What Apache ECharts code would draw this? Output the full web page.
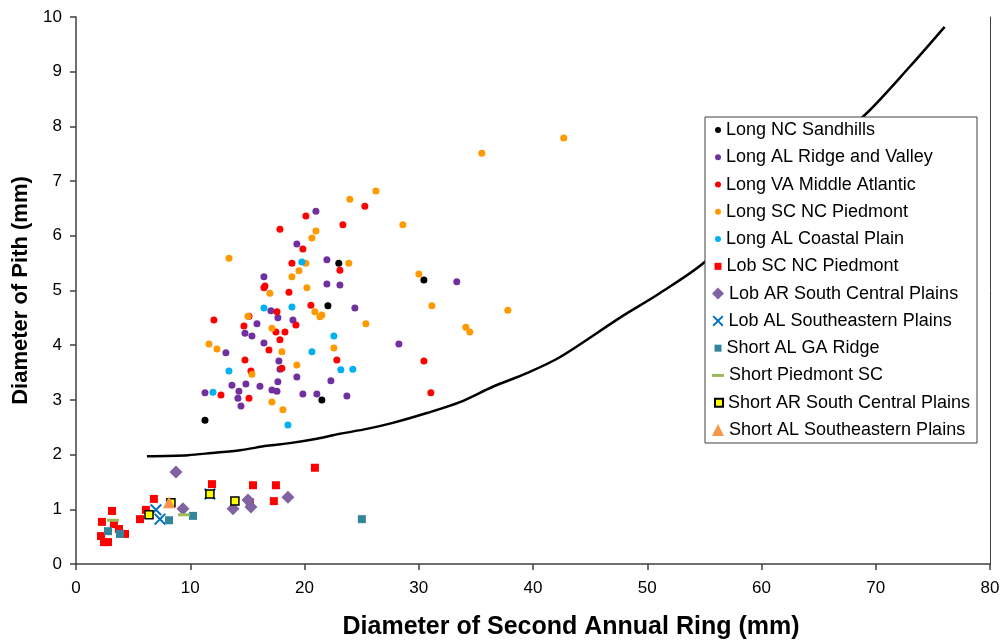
<!DOCTYPE html>
<html><head><meta charset="utf-8">
<script src="https://cdn.jsdelivr.net/npm/echarts@6/dist/echarts.min.js"></script>
<style>html,body{margin:0;padding:0;background:#fff}#c{width:1005px;height:643px}</style>
</head><body><div id="c"></div><script>
// ---- data ----
const longNCSandhills = [[23.0,5.50],[22.05,4.72],[30.45,5.19],[11.29,2.63],[21.52,3.00]];
const longALRidge = [[21.0,6.45],[19.33,5.85],[21.96,5.56],[16.45,5.25],[21.96,5.12],[23.1,5.10],[24.41,4.68],[17.06,4.63],[17.67,4.50],[18.99,4.46],[15.84,4.39],[14.79,4.22],[15.40,4.17],[16.45,4.04],[13.12,3.86],[17.76,3.71],[17.85,3.56],[19.33,3.42],[22.31,3.35],[17.67,3.33],[13.65,3.27],[14.87,3.29],[16.10,3.25],[17.15,3.18],[17.59,3.16],[11.29,3.13],[14.26,3.16],[14.17,3.03],[19.86,3.11],[21.08,3.11],[23.71,3.07],[14.44,2.89],[33.33,5.16],[28.26,4.02]];
const longVAMiddle = [[25.28,6.54],[20.12,6.36],[23.36,6.20],[17.85,6.12],[19.86,5.76],[18.90,5.50],[23.1,5.37],[16.54,5.08],[16.45,5.05],[18.64,4.97],[20.56,4.73],[17.59,4.61],[15.14,4.53],[12.07,4.46],[19.25,4.37],[14.70,4.35],[17.50,4.24],[18.29,4.24],[17.85,4.10],[16.89,3.91],[14.79,3.73],[22.83,3.73],[18.02,3.58],[15.31,3.53],[12.69,3.09],[15.14,3.03],[30.45,3.71],[31.06,3.13]];
const longSCNC = [[42.69,7.79],[35.52,7.51],[26.25,6.82],[23.97,6.67],[28.61,6.20],[21.0,6.09],[20.65,5.96],[13.39,5.59],[20.12,5.50],[23.88,5.50],[19.51,5.36],[18.90,5.25],[30.01,5.30],[20.21,5.05],[16.97,4.95],[31.15,4.72],[37.80,4.64],[20.91,4.61],[21.35,4.52],[21.52,4.55],[15.05,4.53],[25.37,4.39],[17.15,4.31],[34.12,4.33],[34.47,4.24],[22.57,3.95],[11.64,4.02],[12.34,3.93],[18.02,3.88],[19.33,3.64],[15.40,3.47],[17.15,2.96],[18.11,2.82]];
const longALCoastal = [[19.77,5.52],[16.45,4.68],[18.90,4.70],[22.57,4.17],[20.65,3.88],[13.39,3.53],[23.18,3.55],[24.23,3.56],[11.99,3.14],[18.55,2.54]];
const lobSCNC = [[3.15,0.97],[2.27,0.77],[3.32,0.73],[3.76,0.64],[4.29,0.55],[2.19,0.51],[2.45,0.40],[2.80,0.40],[6.82,1.19],[6.12,0.99],[5.60,0.82],[11.90,1.46],[15.49,1.44],[17.50,1.44],[17.32,1.15],[15.22,1.13],[20.91,1.76]];
const lobARSouth = [[8.75,1.68],[9.36,1.01],[15.05,1.17],[15.31,1.04],[13.74,1.01],[18.55,1.22]];
const lobALSoutheast = [[7.0,0.99],[7.35,0.82],[11.72,1.28]];
const shortALGA = [[2.80,0.60],[3.85,0.55],[8.14,0.80],[10.24,0.88],[25.02,0.82]];
const shortPiedmontSC = [[3.24,0.80],[9.45,0.90]];
const shortARSouth = [[6.39,0.90],[8.31,1.12],[11.72,1.28],[13.91,1.15]];
const shortALSoutheast = [[8.14,1.13]];
const curveX = [6.21,9.80,11.90,14.35,16.71,18.72,21.08,23.10,25.46,27.73,30.71,33.60,36.48,39.46,42.34,47.59,51.09,55.03,69.20,72.97,76.03];
const curveY = [1.97,1.99,2.03,2.08,2.16,2.21,2.29,2.38,2.47,2.58,2.76,2.96,3.24,3.49,3.78,4.50,4.95,5.52,8.24,9.09,9.82];
const seriesNames = ['Long NC Sandhills','Long AL Ridge and Valley','Long VA Middle Atlantic','Long SC NC Piedmont','Long AL Coastal Plain','Lob SC NC Piedmont','Lob AR South Central Plains','Lob AL Southeastern Plains','Short AL GA Ridge','Short Piedmont SC','Short AR South Central Plains','Short AL Southeastern Plains'];
const xAxisName = 'Diameter of Second Annual Ring (mm)';
const yAxisName = 'Diameter of Pith (mm)';

// ---- styles ----
const X_PATH = 'path://M0,1.2L1.2,0L5,3.8L8.8,0L10,1.2L6.2,5L10,8.8L8.8,10L5,6.2L1.2,10L0,8.8L3.8,5Z';
const styles = [
  {data: longNCSandhills, symbol:'circle', size:7, color:'#000000', lw:6, lh:6},
  {data: longALRidge, symbol:'circle', size:7, color:'#7030A0', lw:6, lh:6},
  {data: longVAMiddle, symbol:'circle', size:7, color:'#FF0000', lw:6, lh:6},
  {data: longSCNC, symbol:'circle', size:7, color:'#FF9900', lw:6, lh:6},
  {data: longALCoastal, symbol:'circle', size:7, color:'#00B0F0', lw:6, lh:6},
  {data: lobSCNC, symbol:'rect', size:8, color:'#FF0000', lw:7, lh:7},
  {data: lobARSouth, symbol:'diamond', size:13, color:'#8064A2', lw:12, lh:12},
  {data: lobALSoutheast, symbol:X_PATH, size:12, color:'#0070C0', lw:11, lh:11},
  {data: shortALGA, symbol:'rect', size:8, color:'#31859C', lw:7, lh:7},
  {data: shortPiedmontSC, symbol:'rect', size:[12,3], color:'#9BBB59', lw:12, lh:3},
  {data: shortARSouth, symbol:'rect', size:8, color:'#FFFF00', border:'#000000', lw:8, lh:8},
  {data: shortALSoutheast, symbol:'triangle', size:12, color:'#F79646', lw:12, lh:12}
];

const font = 'Liberation Sans';
const series = styles.map((s, i) => ({
  name: seriesNames[i], type: 'scatter', data: s.data, symbol: s.symbol, symbolSize: s.size,
  z: 3,
  itemStyle: Object.assign({color: s.color, opacity: 1}, s.border ? {borderColor: s.border, borderWidth: 1.5} : {borderWidth: 0}),
  emphasis: {disabled: true}
}));
series.unshift({
  name: 'curve', type: 'line', data: curveX.map((x, i) => [x, curveY[i]]),
  showSymbol: false, symbol: 'none', smooth: 0.3, z: 2,
  lineStyle: {color: '#000', width: 2.5}, emphasis: {disabled: true}
});

const legendBox = {left: 705, top: 117, width: 272, height: 326};
const legends = styles.map((s, i) => {
  const cy = 130 + 27.27 * i;
  return {
    data: [{name: seriesNames[i], icon: s.symbol}],
    orient: 'vertical', left: 718 - s.lw / 2, top: cy - 10, padding: 0,
    itemWidth: s.lw, itemHeight: s.lh, selectedMode: false, z: 6,
    textStyle: {fontFamily: font, fontSize: 18, color: '#000', lineHeight: 20}
  };
});

const chart = echarts.init(document.getElementById('c'), null, {renderer: 'canvas'});
chart.setOption({
  animation: false,
  backgroundColor: '#fff',
  grid: {left: 76, right: 15, top: 17, bottom: 79, containLabel: false, outerBoundsMode: 'none'},
  xAxis: {
    type: 'value', min: 0, max: 80, interval: 10,
    name: xAxisName, nameLocation: 'middle', nameGap: 51,
    nameTextStyle: {fontFamily: font, fontSize: 25, fontWeight: 'bold', color: '#000', padding: [0, 0, 0, 76]},
    axisLine: {show: true, onZero: false, lineStyle: {color: '#404040', width: 1.5}},
    axisTick: {show: true, inside: false, length: 6, lineStyle: {color: '#404040', width: 1.5}},
    axisLabel: {fontFamily: font, fontSize: 17, color: '#000', margin: 16},
    splitLine: {show: false}
  },
  yAxis: [{
    type: 'value', min: 0, max: 10, interval: 1,
    name: yAxisName, nameLocation: 'middle', nameGap: 37, nameRotate: 90,
    nameTextStyle: {fontFamily: font, fontSize: 22, fontWeight: 'bold', color: '#000'},
    axisLine: {show: true, onZero: false, lineStyle: {color: '#404040', width: 1.5}},
    axisTick: {show: true, inside: false, length: 6, lineStyle: {color: '#404040', width: 1.5}},
    axisLabel: {fontFamily: font, fontSize: 17, color: '#000', margin: 14},
    splitLine: {show: false}
  }, {
    type: 'value', min: 0, max: 10, interval: 1, position: 'right',
    axisLine: {show: true, onZero: false, lineStyle: {color: '#404040', width: 1}},
    axisTick: {show: false}, axisLabel: {show: false}, splitLine: {show: false}
  }],
  graphic: [{
    type: 'rect', z: 5, shape: {x: legendBox.left, y: legendBox.top, width: legendBox.width, height: legendBox.height},
    style: {fill: '#fff', stroke: '#404040', lineWidth: 1}
  }],
  legend: legends,
  series: series
});
</script></body></html>
